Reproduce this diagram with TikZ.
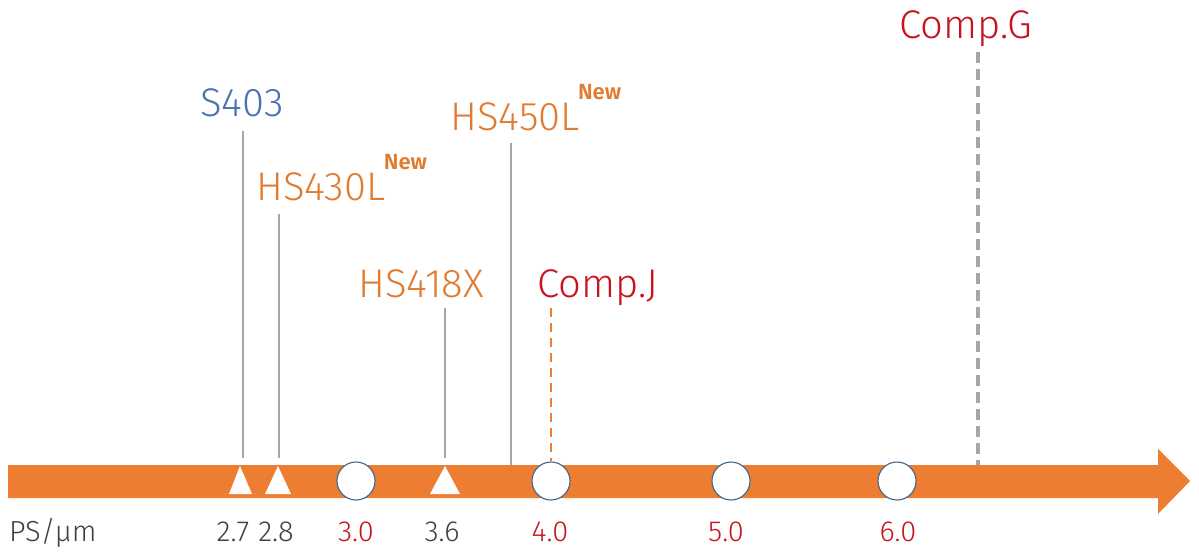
\documentclass[tikz,border=0pt]{standalone}
\usepackage{fontspec}
\setmainfont{Fira Sans}[UprightFont=* Light, BoldFont=* SemiBold]
\definecolor{barorange}{HTML}{ED7D31}
\definecolor{lblorange}{HTML}{E07B30}
\definecolor{lblblue}{HTML}{4A72B0}
\definecolor{lblred}{HTML}{C8141E}
\definecolor{linegray}{HTML}{A6A6A6}
\definecolor{circblue}{HTML}{41648C}
\definecolor{numgray}{HTML}{404040}
\begin{document}
\begin{tikzpicture}[x=1pt,y=-1pt,
  lbl/.style={font=\fontsize{40}{40}\selectfont, anchor=base, inner sep=0pt},
  newlbl/.style={font=\fontsize{22}{22}\selectfont\bfseries, color=lblorange, anchor=base west, inner sep=0pt},
  num/.style={font=\fontsize{29}{29}\selectfont, anchor=base, inner sep=0pt},
  marker/.style={circle, draw=circblue, fill=white, line width=1.1pt, minimum size=38pt, inner sep=0pt},
  tick/.style={draw=linegray, line width=1.8pt},
  tri/.style={fill=white}]
\useasboundingbox (0,0) rectangle (1199,558);
% bar
\fill[barorange] (8,465) -- (1158,465) -- (1158,449) -- (1190,481) -- (1158,514) -- (1158,498) -- (8,498) -- cycle;
% triangles
\fill[tri] (229,494) -- (240,466) -- (252,494) -- cycle;
\coordinate (t27) at (240,466);
\fill[tri] (265,494) -- (278,466) -- (291,494) -- cycle;
\coordinate (t28) at (278,466);
\fill[tri] (430,494) -- (445,466) -- (460,494) -- cycle;
\coordinate (t36) at (445,466);
% circles
\node[marker] (c30) at (356,481) {};
\node[marker] (c40) at (551,481) {};
\node[marker] (c50) at (731,481) {};
\node[marker] (c60) at (897,481) {};
% labels
\node[lbl, color=lblblue] (s403) at (242,116) {S403};
\node[lbl, color=lblorange] (hs430) at (321,200) {HS430L};
\node[newlbl] at (hs430.base east) [xshift=-2pt, yshift=31pt] {New};
\node[lbl, color=lblorange] (hs450) at (515,130) {HS450L};
\node[newlbl] at (hs450.base east) [xshift=-2pt, yshift=31pt] {New};
\node[lbl, color=lblorange] (hs418) at (421,297) {HS418X};
\node[lbl, color=lblred] (compj) at (598,297) {Comp.J};
\node[lbl, color=lblred] (compg) at (966,38) {Comp.G};
% line tops
\coordinate (s403top) at (243,131);
\coordinate (hs430top) at (279,214);
\coordinate (hs418top) at (445,308);
\coordinate (hs450top) at (511,143);
\coordinate (hs450bot) at (511,465);
\coordinate (compjtop) at (551,308);
\coordinate (compgtop) at (978,52);
\coordinate (compgbot) at (978,465);
\draw[tick] (s403top) -- (s403top |- 0,458);
\draw[tick] (hs430top) -- (hs430top |- 0,458);
\draw[tick] (hs418top) -- (hs418top |- 0,458);
\draw[tick] (hs450top) -- (hs450bot);
\draw[draw=barorange, line width=2.2pt, dash pattern=on 9pt off 6pt] (compjtop) -- (c40.north);
\draw[draw=linegray, line width=3.5pt, dash pattern=on 11pt off 6pt] (compgtop) -- (compgbot);
% axis numbers
\node[num, color=numgray, anchor=base west] (ps) at (9,541) {PS/µm};
\node[num, color=numgray] (n27) at (233,541) {2.7};
\node[num, color=numgray] (n28) at (276,541) {2.8};
\node[num, color=lblred] (n30) at (356,541) {3.0};
\node[num, color=numgray] (n36) at (442,541) {3.6};
\node[num, color=lblred] (n40) at (550,541) {4.0};
\node[num, color=lblred] (n50) at (726,541) {5.0};
\node[num, color=lblred] (n60) at (898,541) {6.0};
\end{tikzpicture}
\end{document}
